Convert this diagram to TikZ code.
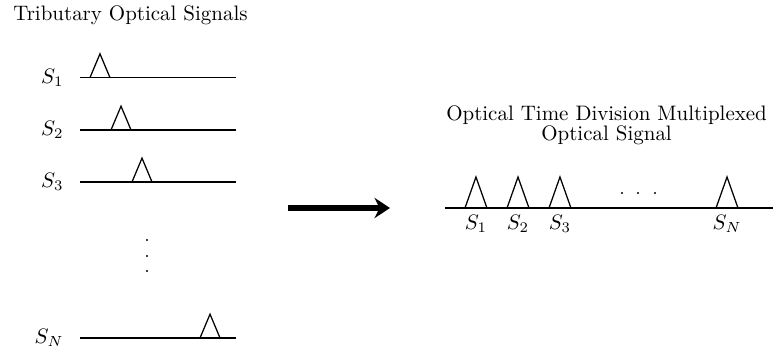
\documentclass[tikz,border=0pt]{standalone}
\usepackage{tikz}
\usetikzlibrary{arrows.meta, positioning}

\begin{document}
\begin{tikzpicture}[
    sig/.style={semithick},
    pulse/.style={semithick, line join=miter},
    lbl/.style={inner sep=2pt},
    dot/.style={fill=black},
    arrow/.style={-{Stealth[length=2.6mm, width=3.4mm]}, line width=3pt}
]
    \useasboundingbox (0,0) rectangle (13,5.938);

    % tributary signals
    \node[anchor=west] (trib) at (0.1,5.686) {Tributary Optical Signals};
    \foreach \i/\y/\c in {1/4.635/1.677, 2/3.757/2.030, 3/2.885/2.382, N/0.268/3.523} {
        \coordinate (a\i) at (1.342,\y);
        \coordinate (b\i) at (3.959,\y);
        \node[lbl, left=0.2cm of a\i] (s\i) {$S_\i$};
        \draw[sig] (a\i) -- (b\i);
        \draw[pulse] (\c,\y) ++(-0.168,0) -- ++(0.168,0.40) -- ++(0.168,-0.40);
    }
    \foreach \y in {1.912, 1.644, 1.392}
        \fill[dot] (2.466,\y) circle (0.55pt);

    % multiplexing arrow
    \coordinate (p) at (4.831,2.449);
    \coordinate (q) at (6.542,2.449);
    \draw[arrow] (p) -- (q);

    % multiplexed signal
    \node[align=center] (otdm) at (10.175,3.841) {Optical Time Division Multiplexed\\[-2.5pt]Optical Signal};
    \coordinate (c0) at (7.464,2.449);
    \coordinate (c1) at (12.966,2.449);
    \draw[sig] (c0) -- (c1);
    \foreach \i/\c in {1/7.984, 2/8.689, 3/9.393, N/12.195} {
        \draw[pulse] (\c,2.449) ++(-0.184,0) -- ++(0.184,0.52) -- ++(0.184,-0.52);
        \node[below] (t\i) at (\c,2.449) {$S_\i$};
    }
    \foreach \x in {10.434, 10.702, 10.987}
        \fill[dot] (\x,2.70) circle (0.55pt);
\end{tikzpicture}
\end{document}
